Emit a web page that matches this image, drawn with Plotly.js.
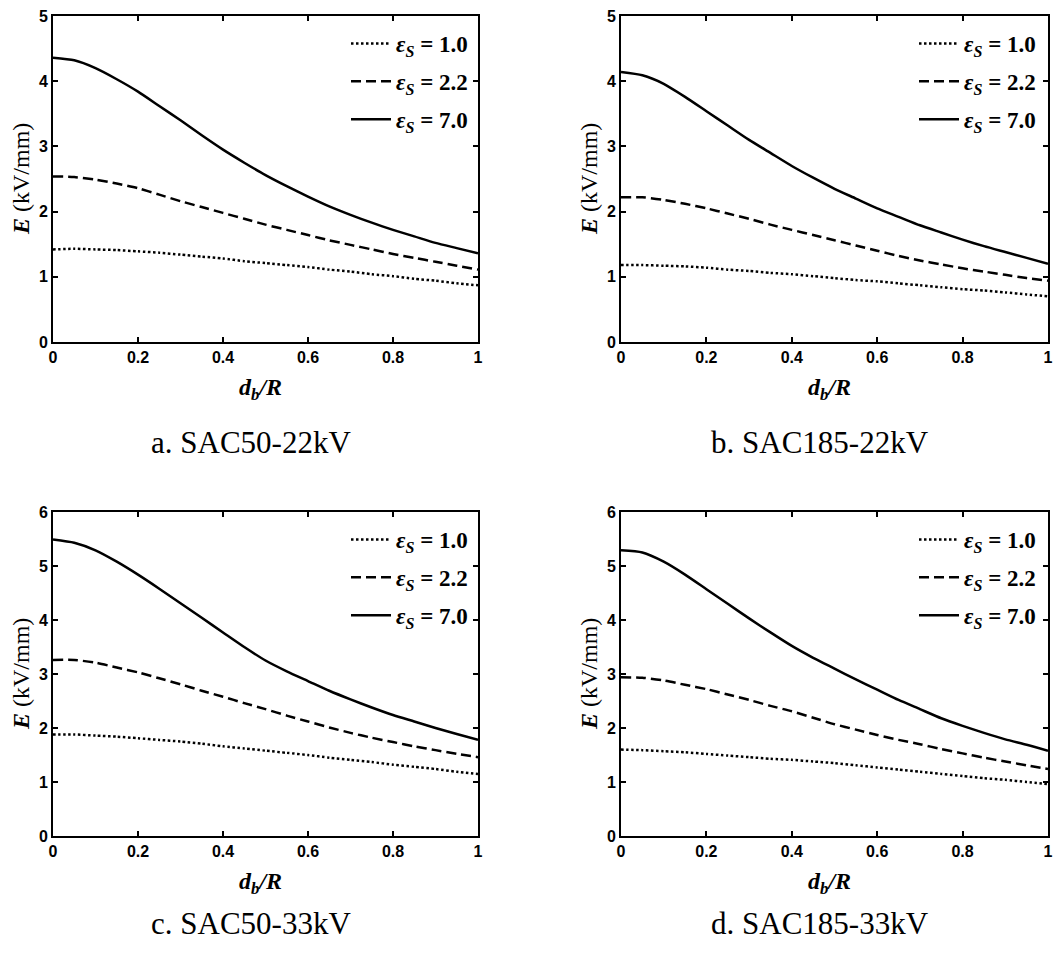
<!DOCTYPE html>
<html>
<head>
<meta charset="utf-8">
<script src="https://cdn.plot.ly/plotly-3.0.1.min.js"></script>
<style>
html,body{margin:0;padding:0;background:#fff;}
#chart{width:1056px;height:954px;}
</style>
</head>
<body>
<div id="chart"></div>
<script>
// x = d_b / R
const xRatio = [0, 0.05, 0.1, 0.15, 0.2, 0.25, 0.3, 0.35, 0.4, 0.45, 0.5, 0.55, 0.6, 0.65, 0.7, 0.75, 0.8, 0.85, 0.9, 0.95, 1.0];

// a. SAC50-22kV
const a_eps1  = [1.42, 1.43, 1.42, 1.41, 1.39, 1.37, 1.34, 1.31, 1.28, 1.24, 1.21, 1.18, 1.15, 1.11, 1.08, 1.04, 1.01, 0.97, 0.94, 0.90, 0.87];
const a_eps22 = [2.54, 2.53, 2.49, 2.43, 2.36, 2.26, 2.16, 2.07, 1.98, 1.89, 1.80, 1.72, 1.64, 1.56, 1.49, 1.42, 1.35, 1.29, 1.23, 1.17, 1.11];
const a_eps7  = [4.36, 4.32, 4.20, 4.03, 3.84, 3.62, 3.40, 3.17, 2.95, 2.75, 2.56, 2.39, 2.23, 2.08, 1.95, 1.83, 1.72, 1.62, 1.52, 1.44, 1.36];

// b. SAC185-22kV
const b_eps1  = [1.18, 1.18, 1.17, 1.16, 1.14, 1.11, 1.09, 1.06, 1.04, 1.01, 0.98, 0.95, 0.93, 0.90, 0.87, 0.84, 0.81, 0.79, 0.76, 0.73, 0.70];
const b_eps22 = [2.22, 2.22, 2.18, 2.12, 2.05, 1.97, 1.89, 1.80, 1.72, 1.64, 1.56, 1.48, 1.40, 1.32, 1.25, 1.19, 1.13, 1.08, 1.03, 0.98, 0.94];
const b_eps7  = [4.14, 4.09, 3.96, 3.76, 3.54, 3.32, 3.10, 2.90, 2.70, 2.52, 2.35, 2.20, 2.05, 1.92, 1.79, 1.68, 1.57, 1.47, 1.38, 1.29, 1.20];

// c. SAC50-33kV
const c_eps1  = [1.88, 1.88, 1.86, 1.84, 1.81, 1.78, 1.75, 1.71, 1.66, 1.62, 1.58, 1.54, 1.50, 1.45, 1.41, 1.37, 1.32, 1.28, 1.24, 1.19, 1.15];
const c_eps22 = [3.26, 3.26, 3.21, 3.12, 3.03, 2.92, 2.81, 2.69, 2.58, 2.46, 2.35, 2.23, 2.12, 2.01, 1.91, 1.82, 1.74, 1.66, 1.59, 1.52, 1.46];
const c_eps7  = [5.49, 5.43, 5.29, 5.08, 4.84, 4.58, 4.31, 4.04, 3.77, 3.50, 3.25, 3.05, 2.87, 2.69, 2.53, 2.38, 2.24, 2.12, 2.00, 1.89, 1.78];

// d. SAC185-33kV
const d_eps1  = [1.60, 1.59, 1.57, 1.55, 1.52, 1.49, 1.46, 1.43, 1.41, 1.38, 1.35, 1.31, 1.27, 1.23, 1.19, 1.15, 1.11, 1.07, 1.04, 1.00, 0.96];
const d_eps22 = [2.94, 2.93, 2.88, 2.80, 2.72, 2.62, 2.52, 2.41, 2.31, 2.19, 2.07, 1.97, 1.87, 1.78, 1.70, 1.61, 1.53, 1.45, 1.38, 1.31, 1.24];
const d_eps7  = [5.29, 5.25, 5.08, 4.84, 4.57, 4.30, 4.03, 3.77, 3.52, 3.30, 3.10, 2.90, 2.71, 2.52, 2.35, 2.18, 2.04, 1.91, 1.79, 1.69, 1.58];

const seriesNames = ['<b><i>ε<sub>S</sub></i> = 1.0</b>', '<b><i>ε<sub>S</sub></i> = 2.2</b>', '<b><i>ε<sub>S</sub></i> = 7.0</b>'];
const panelCaptions = ['a. SAC50-22kV', 'b. SAC185-22kV', 'c. SAC50-33kV', 'd. SAC185-33kV'];
const xTickVals = [0, 0.2, 0.4, 0.6, 0.8, 1];
const xTickText = ['0', '0.2', '0.4', '0.6', '0.8', '1'];
const yMax = [5, 5, 6, 6];

const W = 1056, H = 954;
const px = v => v / W;
const py = v => 1 - v / H;

const panels = [
  {ys: [a_eps1, a_eps22, a_eps7], x0: 53, x1: 478, y0: 16, y1: 342},
  {ys: [b_eps1, b_eps22, b_eps7], x0: 621, x1: 1048, y0: 16, y1: 342},
  {ys: [c_eps1, c_eps22, c_eps7], x0: 53, x1: 478, y0: 512, y1: 836},
  {ys: [d_eps1, d_eps22, d_eps7], x0: 621, x1: 1048, y0: 512, y1: 836}
];
const dashes = ['2.5px,2.5px', '10px,5px', 'solid'];

const traces = [];
const layout = {
  width: W, height: H,
  margin: {l: 0, r: 0, t: 0, b: 0},
  paper_bgcolor: '#fff', plot_bgcolor: '#fff',
  showlegend: true,
  annotations: []
};

const tickFont = {family: 'Liberation Sans, Arial, sans-serif', size: 16, color: '#000', weight: 'bold'};
const serif = 'Liberation Serif, Times New Roman, serif';

panels.forEach((p, i) => {
  const n = i + 1;
  const xa = n === 1 ? 'x' : 'x' + n;
  const ya = n === 1 ? 'y' : 'y' + n;
  const lg = n === 1 ? 'legend' : 'legend' + n;
  p.ys.forEach((arr, k) => {
    traces.push({
      x: xRatio, y: arr, type: 'scatter', mode: 'lines',
      name: seriesNames[k], xaxis: xa, yaxis: ya, legend: lg,
      legendgroup: 'g' + n + '_' + k,
      line: {color: '#000', width: 2.5, dash: dashes[k], shape: 'spline', smoothing: 0.6},
      hoverinfo: 'x+y'
    });
  });
  const axCommon = {
    showgrid: false, zeroline: false, showline: true, linecolor: '#000', linewidth: 2,
    mirror: 'ticks', ticks: 'inside', ticklen: 5, tickwidth: 1.5, tickcolor: '#000',
    tickfont: tickFont, automargin: false
  };
  const yt = [];
  for (let t = 0; t <= yMax[i]; t++) yt.push(t);
  layout['xaxis' + (n === 1 ? '' : n)] = Object.assign({}, axCommon, {
    domain: [px(p.x0), px(p.x1)], range: [0, 1], tickvals: xTickVals,
    ticktext: xTickText.map(t => '<b>' + t + '</b>'), anchor: ya
  });
  layout['yaxis' + (n === 1 ? '' : n)] = Object.assign({}, axCommon, {
    domain: [py(p.y1), py(p.y0)], range: [0, yMax[i]], tickvals: yt,
    ticktext: yt.map(t => '<b>' + t + '</b>'), anchor: xa
  });
  layout[lg] = {
    x: px(p.x0 + 293), y: py(p.y0 + 6), xanchor: 'left', yanchor: 'top',
    bgcolor: 'rgba(0,0,0,0)', borderwidth: 0,
    font: {family: serif, size: 23, color: '#000'},
    tracegroupgap: 5, itemwidth: 40
  };
  const cx = (p.x0 + p.x1) / 2;
  // y-axis title
  layout.annotations.push({
    xref: 'paper', yref: 'paper', x: px(p.x0 - 32), y: py((p.y0 + p.y1) / 2),
    text: '<b><i>E</i></b> (kV/mm)', textangle: -90, showarrow: false,
    xanchor: 'center', yanchor: 'middle', font: {family: serif, size: 24, color: '#000'}
  });
  // x-axis title
  layout.annotations.push({
    xref: 'paper', yref: 'paper', x: px(cx - 5), y: py(p.y1 + 47),
    text: '<b><i>d<sub>b</sub>/R</i></b>', showarrow: false,
    xanchor: 'center', yanchor: 'middle', font: {family: serif, size: 24, color: '#000'}
  });
  // caption
  layout.annotations.push({
    xref: 'paper', yref: 'paper', x: px(cx - 15), y: py(p.y1 + (i < 2 ? 101 : 87)),
    text: panelCaptions[i], showarrow: false,
    xanchor: 'center', yanchor: 'middle', font: {family: serif, size: 31, color: '#000'}
  });
});

Plotly.newPlot('chart', traces, layout, {displayModeBar: false});
</script>
</body>
</html>
